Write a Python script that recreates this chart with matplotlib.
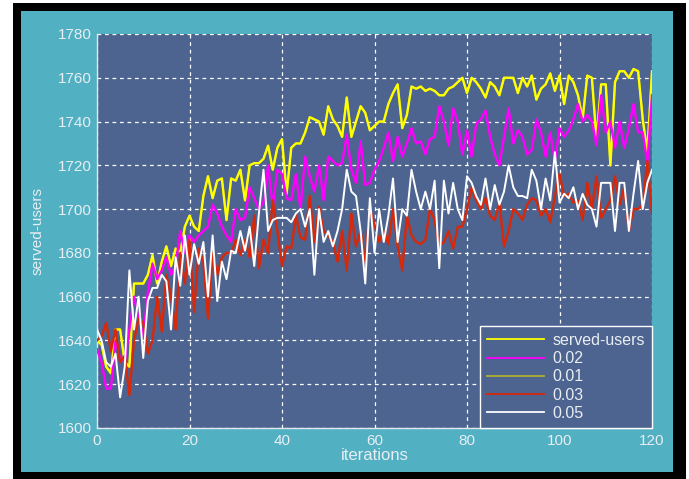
import matplotlib.pyplot as plt
import matplotlib.patches as patches
import numpy as np

plt.rcParams['font.family'] = ['Liberation Sans', 'DejaVu Sans']

iters = np.arange(0, 121)

served = [1640, 1638, 1628, 1625, 1645, 1645, 1630, 1628, 1666, 1666,
          1666, 1670, 1679, 1666, 1676, 1683, 1674, 1682, 1680, 1692,
          1697, 1692, 1690, 1706, 1715, 1705, 1713, 1714, 1695, 1714,
          1713, 1718, 1704, 1720, 1721, 1721, 1723, 1729, 1718, 1728,
          1732, 1707, 1728, 1730, 1730, 1735, 1742, 1741, 1740, 1734,
          1747, 1741, 1738, 1733, 1751, 1733, 1740, 1747, 1744, 1736,
          1738, 1740, 1740, 1748, 1753, 1757, 1737, 1743, 1756, 1755,
          1756, 1754, 1755, 1754, 1752, 1752, 1755, 1756, 1758, 1760,
          1753, 1760, 1758, 1755, 1751, 1758, 1756, 1752, 1760, 1760,
          1760, 1753, 1760, 1756, 1761, 1750, 1755, 1757, 1762, 1754,
          1761, 1748, 1761, 1758, 1752, 1741, 1761, 1760, 1732, 1757,
          1757, 1720, 1758, 1763, 1763, 1760, 1764, 1763, 1741, 1726,
          1763]

p002 = [1636, 1630, 1618, 1618, 1640, 1632, 1630, 1645, 1660, 1650,
        1642, 1662, 1675, 1668, 1672, 1678, 1670, 1674, 1690, 1680,
        1688, 1685, 1688, 1690, 1692, 1702, 1698, 1692, 1688, 1685,
        1700, 1695, 1696, 1710, 1705, 1700, 1703, 1720, 1701, 1718,
        1716, 1705, 1704, 1716, 1700, 1724, 1715, 1708, 1720, 1704,
        1724, 1722, 1720, 1721, 1734, 1718, 1712, 1731, 1711, 1712,
        1718, 1722, 1728, 1735, 1722, 1733, 1724, 1730, 1737, 1730,
        1731, 1725, 1732, 1733, 1747, 1740, 1729, 1746, 1740, 1725,
        1736, 1724, 1739, 1741, 1745, 1733, 1725, 1720, 1733, 1746,
        1730, 1736, 1733, 1725, 1727, 1741, 1735, 1724, 1735, 1722,
        1737, 1733, 1736, 1741, 1748, 1740, 1743, 1740, 1729, 1752,
        1735, 1740, 1728, 1740, 1728, 1737, 1748, 1735, 1735, 1721,
        1752]

p001 = served  # 0.01 curve sits under the served-users curve

p003 = [1640, 1642, 1648, 1635, 1645, 1630, 1633, 1615, 1640, 1650,
        1648, 1634, 1640, 1660, 1644, 1670, 1660, 1645, 1680, 1666,
        1686, 1653, 1682, 1676, 1650, 1680, 1670, 1678, 1680, 1680,
        1686, 1679, 1686, 1678, 1697, 1673, 1686, 1680, 1704, 1690,
        1674, 1683, 1682, 1697, 1687, 1686, 1706, 1685, 1701, 1690,
        1688, 1685, 1676, 1690, 1672, 1698, 1683, 1690, 1676, 1700,
        1693, 1685, 1690, 1684, 1700, 1683, 1672, 1697, 1688, 1685,
        1684, 1686, 1700, 1695, 1683, 1685, 1690, 1682, 1692, 1692,
        1700, 1710, 1704, 1700, 1705, 1697, 1695, 1703, 1683, 1690,
        1700, 1698, 1695, 1702, 1705, 1704, 1697, 1700, 1694, 1706,
        1716, 1706, 1707, 1703, 1704, 1695, 1712, 1700, 1715, 1696,
        1700, 1704, 1715, 1702, 1710, 1690, 1700, 1700, 1702, 1722,
        1698]

p005 = [1645, 1640, 1630, 1628, 1634, 1614, 1628, 1672, 1645, 1660,
        1632, 1658, 1664, 1664, 1670, 1667, 1645, 1678, 1665, 1688,
        1670, 1684, 1675, 1685, 1660, 1688, 1658, 1676, 1668, 1681,
        1680, 1690, 1681, 1692, 1674, 1698, 1718, 1690, 1695, 1696,
        1696, 1696, 1694, 1698, 1700, 1692, 1700, 1670, 1700, 1685,
        1690, 1683, 1690, 1700, 1718, 1708, 1706, 1690, 1666, 1705,
        1680, 1700, 1685, 1697, 1714, 1685, 1700, 1697, 1718, 1708,
        1700, 1708, 1700, 1713, 1673, 1713, 1698, 1712, 1700, 1695,
        1715, 1712, 1706, 1702, 1714, 1700, 1711, 1702, 1708, 1720,
        1710, 1706, 1706, 1705, 1718, 1713, 1700, 1714, 1704, 1726,
        1703, 1707, 1705, 1710, 1700, 1707, 1702, 1700, 1692, 1712,
        1712, 1712, 1690, 1712, 1712, 1690, 1707, 1722, 1700, 1712,
        1718]

labels = ['served-users', '0.02', '0.01', '0.03', '0.05']

teal = '#52b0c3'
navy = '#4d6390'
txt = '#e8eef2'

fig = plt.figure(figsize=(6.89, 4.79), dpi=100, facecolor='white')
# black frame + teal panel behind everything
fig.patches.append(patches.Rectangle((13/689, 0), 673/689, 476/479, transform=fig.transFigure,
                                     facecolor='black', edgecolor='none', zorder=-2))
fig.patches.append(patches.Rectangle((21/689, 7/479), 652/689, 461/479, transform=fig.transFigure,
                                     facecolor=teal, edgecolor='none', zorder=-1))

ax = fig.add_axes([97/689, 51/479, 555/689, 394/479])
ax.set_facecolor(navy)

ax.plot(iters, p001, color='#b0b032', lw=1.4, label=labels[2], zorder=2)
ax.plot(iters, served, color='#ffff00', lw=1.7, label=labels[0], zorder=3)
ax.plot(iters, p002, color='#ff00ff', lw=1.7, label=labels[1], zorder=3)
ax.plot(iters, p003, color='#d8280a', lw=1.7, label=labels[3], zorder=3)
ax.plot(iters, p005, color='white', lw=1.4, label=labels[4], zorder=3)

ax.set_xlim(0, 120)
ax.set_ylim(1600, 1780)
ax.set_xticks(np.arange(0, 121, 20))
ax.set_yticks(np.arange(1600, 1781, 20))
ax.grid(True, color='white', linestyle=(0, (3, 3)), linewidth=0.9)
ax.set_axisbelow(True)

for s in ['top', 'right']:
    ax.spines[s].set_visible(False)
for s in ['left', 'bottom']:
    ax.spines[s].set_color('#e0e8ec')
    ax.spines[s].set_linewidth(1.0)

ax.tick_params(length=0, labelsize=11, colors=txt, pad=4)
ax.set_xlabel('iterations', color=txt, fontsize=12, labelpad=0)
ax.set_ylabel('served-users', color=txt, fontsize=11, labelpad=9)

# legend in the order of the original
h, l = ax.get_legend_handles_labels()
order = [l.index(k) for k in labels]
leg = ax.legend([h[i] for i in order], [l[i] for i in order], loc='lower right',
                facecolor=navy, edgecolor='white', framealpha=1, fancybox=False,
                borderaxespad=0, handlelength=3.6, handletextpad=0.5, fontsize=11.5,
                borderpad=0.45, labelspacing=0.2)
leg.get_frame().set_linewidth(1.0)
for line in leg.get_lines():
    line.set_linewidth(1.3)
for t in leg.get_texts():
    t.set_color(txt)

plt.savefig('out.png', dpi=100, facecolor=fig.get_facecolor())
